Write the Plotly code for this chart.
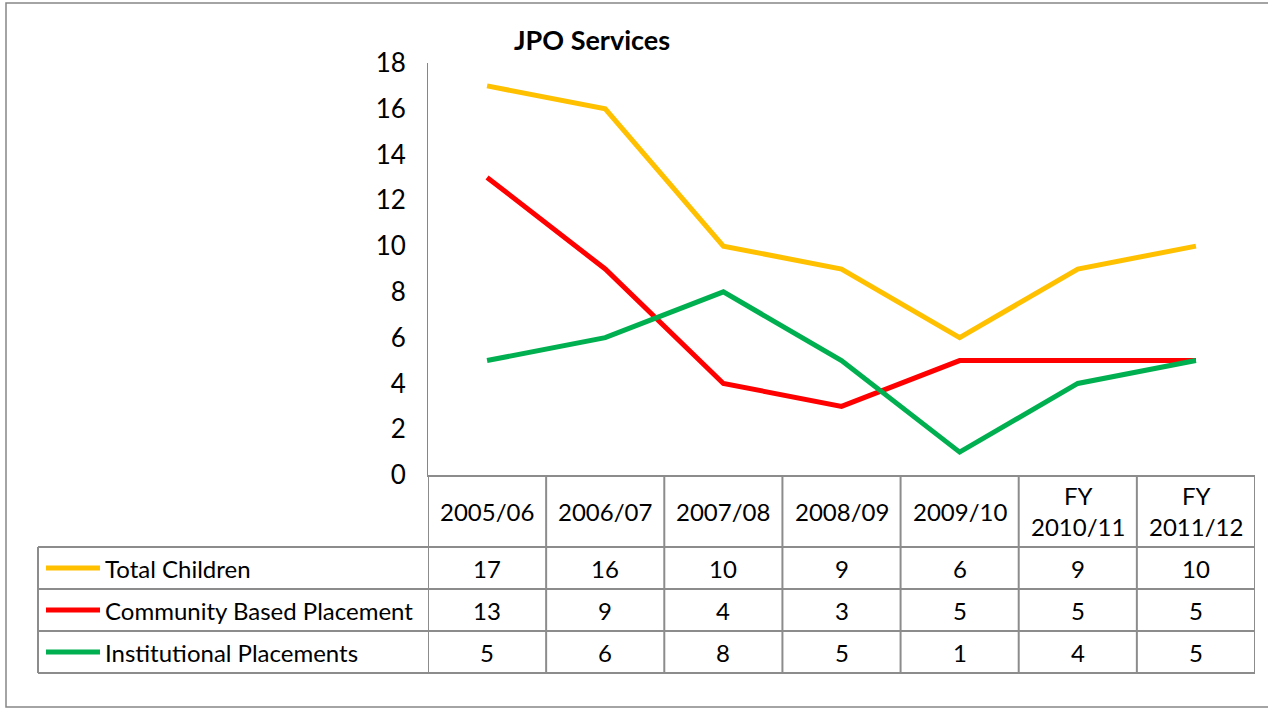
import plotly.graph_objects as go

W, H = 1268, 709

categories = ["2005/06", "2006/07", "2007/08", "2008/09", "2009/10", "FY 2010/11", "FY 2011/12"]
header_labels = ["2005/06", "2006/07", "2007/08", "2008/09", "2009/10", "FY<br>2010/11", "FY<br>2011/12"]
series_names = ["Total Children", "Community Based Placement", "Institutional Placements"]
total_children = [17, 16, 10, 9, 6, 9, 10]
community_based = [13, 9, 4, 3, 5, 5, 5]
institutional = [5, 6, 8, 5, 1, 4, 5]
series_values = [total_children, community_based, institutional]
series_colors = ["#FFC000", "#FF0000", "#00B050"]
y_ticks = [0, 2, 4, 6, 8, 10, 12, 14, 16, 18]

FONT = "Lato"
GRID = "#8C8C8C"
TXT = 24


def px(x):
    return x / W


def py(y):
    return 1 - y / H


fig = go.Figure()
for name, vals, col in zip(series_names, series_values, series_colors):
    fig.add_trace(go.Scatter(x=categories, y=vals, name=name, mode="lines",
                             line=dict(color=col, width=5), showlegend=False,
                             hoverinfo="skip"))

plot_left, plot_right = 428, 1255
plot_top, plot_bottom = 63, 475
row_lines = [547, 589, 631, 673]
row_centers = [568, 610, 652]

shapes = []
# outer border (right edge lies beyond the picture)
shapes.append(dict(type="rect", xref="paper", yref="paper", x0=px(6), x1=px(1275),
                   y0=py(707), y1=py(3), line=dict(color="#868686", width=1.5)))
# table horizontal lines
for yy in row_lines:
    shapes.append(dict(type="line", xref="paper", yref="paper", x0=px(38), x1=px(plot_right),
                       y0=py(yy), y1=py(yy), line=dict(color=GRID, width=2)))
# left border of table
shapes.append(dict(type="line", xref="paper", yref="paper", x0=px(38), x1=px(38),
                   y0=py(row_lines[0]), y1=py(row_lines[-1]), line=dict(color=GRID, width=2)))
# category boundaries
for k in range(len(categories) + 1):
    shapes.append(dict(type="line", xref="x", yref="paper", x0=k - 0.5, x1=k - 0.5,
                       y0=py(plot_bottom), y1=py(row_lines[-1]), line=dict(color=GRID, width=2)))
# legend keys
for yy, col in zip(row_centers, series_colors):
    shapes.append(dict(type="line", xref="paper", yref="paper", x0=px(46), x1=px(100),
                       y0=py(yy), y1=py(yy), line=dict(color=col, width=5)))

annotations = []
annotations.append(dict(text="<b>JPO Services</b>", xref="paper", yref="paper",
                        x=px(592), y=py(39), showarrow=False, xanchor="center", yanchor="middle",
                        font=dict(family=FONT, size=27, color="#000000")))
for i, lab in enumerate(header_labels):
    annotations.append(dict(text=lab, xref="x", yref="paper", x=i, y=py(511), showarrow=False,
                            xanchor="center", yanchor="middle",
                            font=dict(family=FONT, size=TXT, color="#000000")))
for r, (name, vals) in enumerate(zip(series_names, series_values)):
    annotations.append(dict(text=name, xref="paper", yref="paper", x=px(103), y=py(row_centers[r]),
                            showarrow=False, xanchor="left", yanchor="middle",
                            font=dict(family=FONT, size=TXT, color="#000000")))
    for i, v in enumerate(vals):
        annotations.append(dict(text=str(v), xref="x", yref="paper", x=i, y=py(row_centers[r]),
                                showarrow=False, xanchor="center", yanchor="middle",
                                font=dict(family=FONT, size=TXT, color="#000000")))

fig.update_layout(
    template="none",
    width=W, height=H, autosize=False,
    margin=dict(l=0, r=0, t=0, b=0, pad=0, autoexpand=False),
    paper_bgcolor="white", plot_bgcolor="white",
    xaxis=dict(domain=[px(plot_left), px(plot_right)], range=[-0.5, len(categories) - 0.5],
               showticklabels=False, ticks="", showgrid=False, zeroline=False, automargin=False,
               showline=True, linecolor=GRID, linewidth=1.5, fixedrange=True),
    yaxis=dict(domain=[py(plot_bottom), py(plot_top)], range=[0, 18], tickvals=y_ticks,
               showgrid=False, zeroline=False, showline=True, linecolor="#868686", linewidth=1,
               ticks="", ticklabelstandoff=16, automargin=False,
               tickfont=dict(family=FONT, size=26, color="#000000"), fixedrange=True),
    shapes=shapes, annotations=annotations, showlegend=False,
)

fig.write_html("out.html", config={"displayModeBar": False},
               post_script="document.body.style.margin='0';document.body.style.overflow='hidden';")
